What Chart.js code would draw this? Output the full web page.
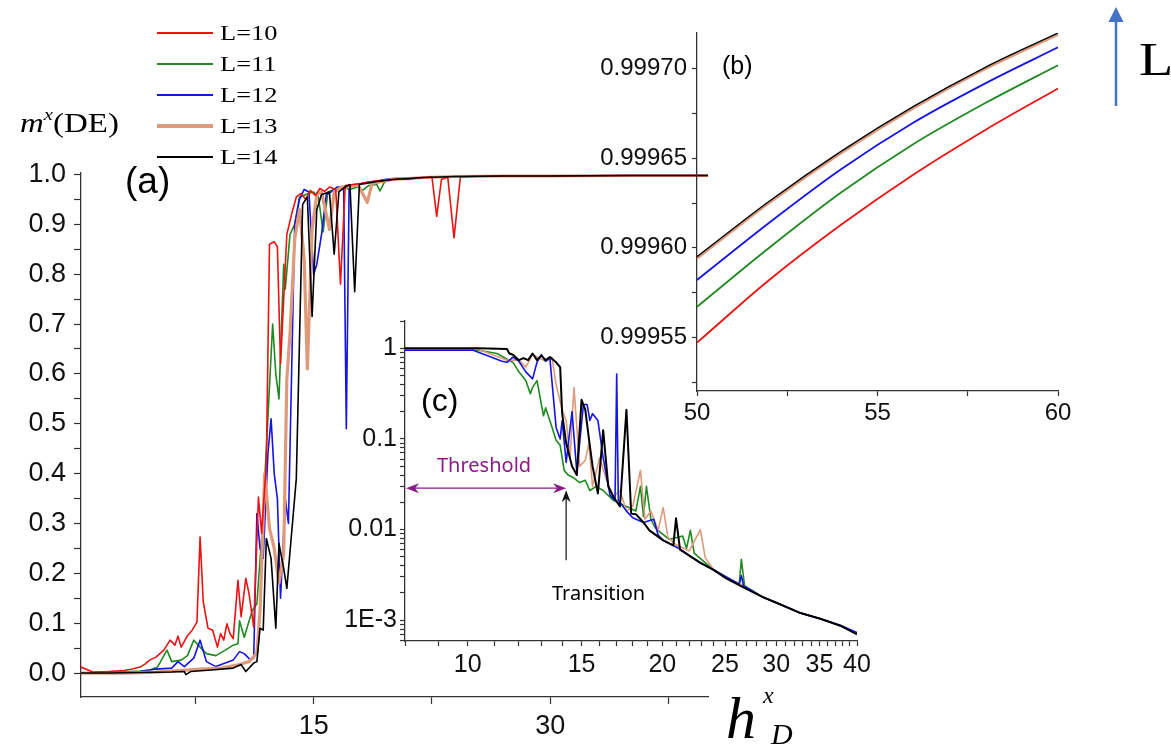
<!DOCTYPE html>
<html lang="en">
<head>
  <meta charset="UTF-8">
  <title>m^x(DE) against h^x_D</title>
  <script src="https://cdn.jsdelivr.net/npm/chart.js"></script>
  <style>
    body { margin: 0; background: #fff; }
    #fig { position: relative; width: 1171px; height: 749px; overflow: hidden; background: #fff; }
    #fig canvas { position: absolute; }
    .lbl { position: absolute; white-space: nowrap; line-height: 1; color: #000; transform-origin: left top; }
    .sans { font-family: 'Liberation Sans', Arial, sans-serif; }
    .serif { font-family: 'Liberation Serif', 'Times New Roman', serif; }
    .note { font-family: 'Noto Sans', 'Open Sans', sans-serif; }
    .wide { transform: scaleX(1.22); }
    .legend-row { position: absolute; left: 157px; height: 24px; display: flex; align-items: center; }
    .legend-row .sw { width: 56px; margin-right: 7px; }
    .legend-row span { font-family: 'Liberation Serif', serif; font-size: 22px; line-height: 1;
                       display: inline-block; transform: scaleX(1.2); transform-origin: left center; }
  </style>
</head>
<body>
<div id="fig">
  <canvas id="mainChart" width="1171" height="749" style="left:0;top:0"></canvas>
  <canvas id="insetB" width="500" height="430" style="left:580px;top:0"></canvas>
  <canvas id="insetC" width="560" height="390" style="left:330px;top:300px"></canvas>
  <div id="legend"></div>

  <div class="lbl serif wide" style="left:20px;top:110px;font-size:27px"><i>m</i><span style="position:relative;top:-12px;font-size:17px;font-style:italic">x</span>(DE)</div>
  <div class="lbl serif" style="left:726px;top:688px;font-size:60px;font-style:italic">h</div>
  <div class="lbl serif" style="left:763px;top:683px;font-size:24px;font-style:italic">x</div>
  <div class="lbl serif" style="left:771px;top:719px;font-size:30px;font-style:italic">D</div>

  <div class="lbl sans" style="left:125px;top:162px;font-size:37px">(a)</div>
  <div class="lbl sans" style="left:722px;top:53px;font-size:25px">(b)</div>
  <div class="lbl sans" style="left:421px;top:384px;font-size:32px">(c)</div>
  <div class="lbl note" style="left:437px;top:455px;font-size:20px;color:#8b1a8b">Threshold</div>
  <div class="lbl note" style="left:552px;top:583px;font-size:20px">Transition</div>

  <svg style="position:absolute;left:1100px;top:0" width="32" height="125">
    <line x1="16" y1="106" x2="16" y2="20" stroke="#4472c4" stroke-width="2.5"/>
    <polygon points="16,7 8.5,22 23.5,22" fill="#4472c4"/>
  </svg>
  <div class="lbl serif wide" style="left:1139px;top:37px;font-size:46px">L</div>
</div>

<script>
  // ---- series names / colours ----
  const seriesNames = ['L=10', 'L=11', 'L=12', 'L=13', 'L=14'];
  const seriesColors = ['#ee1111', '#1f8a1f', '#1414e6', '#de9a7a', '#000000'];

  // ---- panel (a): m^x(DE) vs h^x_D ----
  const hx10 = [0.25, 1, 2, 3, 3.5, 4, 4.3, 4.6, 5.0, 5.5, 5.9, 6.2, 6.4, 6.6, 7.0, 7.3, 7.6, 7.8, 8.0, 8.3, 8.6, 8.9, 9.1, 9.3, 9.5, 9.7, 9.9, 10.2, 10.4, 10.7, 10.9, 11.2, 11.5, 11.7, 12.0, 12.2, 12.5, 12.7, 12.9, 13.3, 13.6, 13.9, 14.2, 14.5, 14.8, 15.1, 15.4, 15.7, 16.0, 16.4, 16.7, 17.0, 17.5, 18.0, 18.5, 19.0, 19.5, 20.0, 20.5, 21.0, 21.5, 22.0, 22.5, 22.8, 23.1, 23.5, 23.9, 24.3, 25, 27, 30, 35, 40];
  const m10 = [0.012, 0.002, 0.003, 0.005, 0.008, 0.012, 0.018, 0.026, 0.032, 0.046, 0.066, 0.056, 0.074, 0.052, 0.075, 0.086, 0.102, 0.273, 0.143, 0.090, 0.086, 0.052, 0.079, 0.066, 0.099, 0.079, 0.069, 0.186, 0.113, 0.190, 0.160, 0.092, 0.353, 0.280, 0.420, 0.860, 0.865, 0.855, 0.620, 0.880, 0.920, 0.955, 0.962, 0.950, 0.968, 0.958, 0.972, 0.966, 0.975, 0.970, 0.780, 0.978, 0.980, 0.982, 0.985, 0.987, 0.988, 0.990, 0.991, 0.990, 0.993, 0.994, 0.995, 0.916, 0.990, 0.995, 0.873, 0.995, 0.996, 0.997, 0.997, 0.998, 0.998];

  const hx11 = [0.25, 2, 4, 4.6, 5.1, 5.7, 6.0, 6.6, 7.0, 7.4, 7.8, 8.2, 8.8, 9.4, 9.9, 10.2, 10.3, 10.6, 11.1, 11.4, 11.7, 12.0, 12.4, 12.6, 12.8, 13.1, 13.2, 13.5, 13.8, 14.1, 14.5, 15.0, 15.3, 15.6, 15.9, 16.3, 16.8, 17.3, 17.8, 18.1, 18.5, 19.0, 19.2, 19.5, 20.0, 21, 22, 24, 27, 30, 35, 40];
  const m11 = [0.000, 0.001, 0.004, 0.006, 0.012, 0.046, 0.023, 0.026, 0.035, 0.066, 0.052, 0.039, 0.035, 0.046, 0.056, 0.059, 0.105, 0.072, 0.125, 0.139, 0.270, 0.450, 0.700, 0.600, 0.550, 0.820, 0.770, 0.880, 0.900, 0.955, 0.960, 0.965, 0.955, 0.885, 0.965, 0.970, 0.975, 0.970, 0.975, 0.968, 0.978, 0.980, 0.967, 0.985, 0.990, 0.992, 0.994, 0.996, 0.997, 0.997, 0.998, 0.998];

  const hx12 = [0.25, 2, 4, 5.0, 6.0, 6.4, 6.8, 7.4, 7.8, 8.2, 8.8, 9.4, 9.9, 10.3, 10.6, 11.0, 11.2, 11.4, 11.6, 11.8, 12.1, 12.3, 12.5, 12.7, 12.9, 13.2, 13.4, 13.6, 13.8, 14.1, 14.4, 14.7, 15.0, 15.2, 15.5, 15.8, 16.1, 16.5, 16.9, 17.07, 17.25, 17.6, 18.0, 18.5, 19.0, 19.5, 20, 21, 22, 24, 27, 30, 35, 40];
  const m12 = [0.000, 0.001, 0.003, 0.008, 0.010, 0.023, 0.013, 0.030, 0.066, 0.023, 0.013, 0.020, 0.026, 0.043, 0.039, 0.026, 0.030, 0.320, 0.250, 0.230, 0.440, 0.510, 0.400, 0.350, 0.150, 0.350, 0.300, 0.600, 0.900, 0.950, 0.970, 0.965, 0.800, 0.820, 0.880, 0.960, 0.965, 0.975, 0.975, 0.490, 0.978, 0.980, 0.982, 0.985, 0.987, 0.990, 0.992, 0.993, 0.994, 0.996, 0.997, 0.997, 0.998, 0.998];

  const hx13 = [0.25, 3, 5, 6, 7.8, 9.1, 10.3, 10.9, 11.4, 11.6, 11.9, 12.2, 12.5, 12.8, 13.1, 13.3, 13.5, 13.8, 14.1, 14.4, 14.6, 14.9, 15.2, 15.5, 16.0, 16.3, 16.8, 17.3, 17.8, 18.4, 18.7, 19.2, 20, 21, 22, 24, 27, 30, 35, 40];
  const m13 = [0.000, 0.000, 0.002, 0.004, 0.008, 0.010, 0.017, 0.023, 0.040, 0.125, 0.400, 0.290, 0.250, 0.180, 0.240, 0.590, 0.680, 0.870, 0.930, 0.830, 0.610, 0.890, 0.960, 0.965, 0.890, 0.965, 0.975, 0.975, 0.980, 0.944, 0.982, 0.985, 0.990, 0.992, 0.994, 0.996, 0.997, 0.997, 0.998, 0.998];

  const hx14 = [0.25, 2, 4, 6, 6.8, 6.9, 7.2, 8.5, 9.9, 10.4, 10.7, 11.2, 11.4, 11.6, 11.8, 12.0, 12.3, 12.6, 12.8, 13.1, 13.3, 13.6, 13.9, 14.3, 14.6, 14.9, 15.2, 15.5, 16.0, 16.3, 16.6, 17.0, 17.3, 17.6, 17.9, 18.5, 19, 20, 21, 22, 24, 27, 30, 35, 40];
  const m14 = [0.000, 0.000, 0.001, 0.002, 0.003, -0.003, 0.003, 0.006, 0.010, 0.017, 0.003, 0.020, 0.023, 0.090, 0.086, 0.270, 0.230, 0.090, 0.260, 0.210, 0.170, 0.280, 0.390, 0.940, 0.955, 0.715, 0.930, 0.960, 0.965, 0.840, 0.965, 0.975, 0.980, 0.765, 0.980, 0.983, 0.986, 0.990, 0.992, 0.994, 0.996, 0.997, 0.997, 0.998, 0.998];

  const mainXTicks = [7.5, 15, 22.5, 30, 37.5];
  const mainXLabels = [15, 30];
  const mainYTicks = [0, 0.05, 0.1, 0.15, 0.2, 0.25, 0.3, 0.35, 0.4, 0.45, 0.5, 0.55, 0.6, 0.65, 0.7, 0.75, 0.8, 0.85, 0.9, 0.95, 1.0];

  // ---- panel (b): zoom 50..60 ----
  const hxB = [50, 52, 54, 56, 58, 60];
  const mB10 = [0.999547, 0.999582, 0.999613, 0.999641, 0.999666, 0.999689];
  const mB11 = [0.999567, 0.999600, 0.999631, 0.999658, 0.999681, 0.999702];
  const mB12 = [0.999582, 0.999614, 0.999644, 0.999670, 0.999692, 0.999712];
  const mB13 = [0.999594, 0.999625, 0.999653, 0.999678, 0.999700, 0.999719];
  const mB14 = [0.999595, 0.999626, 0.999654, 0.999679, 0.999701, 0.999720];
  const bXTicks = [50, 52.5, 55, 57.5, 60];
  const bXLabels = [50, 55, 60];
  const bYTicks = [0.999525, 0.99955, 0.999575, 0.9996, 0.999625, 0.99965, 0.999675, 0.9997];
  const bYLabels = [0.99955, 0.9996, 0.99965, 0.9997];

  // ---- panel (c): log-log ----
  const hxC11 = [8.0, 9.3, 10.4, 11.1, 11.75, 12.0, 12.3, 12.5, 12.6, 12.8, 13.1, 13.2, 13.5, 13.7, 13.9, 14.1, 14.3, 14.6, 14.9, 15.2, 15.45, 15.8, 16.2, 16.8, 17.6, 18.2, 18.5, 18.7, 18.9, 19.2, 19.5, 19.8, 20.5, 21.5, 21.8, 22.1, 22.4, 24.0, 25.1, 26.3, 26.5, 26.8, 28.6, 30.4, 32.7, 35.1, 37.7, 40];
  const dC11 = [0.96, 0.96, 0.95, 0.875, 0.70, 0.55, 0.44, 0.316, 0.37, 0.44, 0.18, 0.22, 0.135, 0.097, 0.085, 0.045, 0.040, 0.037, 0.033, 0.035, 0.027, 0.030, 0.027, 0.021, 0.018, 0.016, 0.030, 0.014, 0.030, 0.013, 0.0105, 0.0095, 0.0078, 0.0085, 0.0062, 0.0098, 0.0055, 0.0036, 0.0030, 0.0025, 0.0047, 0.0024, 0.0018, 0.0015, 0.0012, 0.00104, 0.00087, 0.00072];

  const hxC12 = [8.0, 10.2, 11.3, 11.5, 11.75, 12.0, 12.3, 12.6, 12.8, 13.0, 13.2, 13.4, 13.7, 13.9, 14.0, 14.2, 14.5, 14.75, 15.1, 15.3, 15.45, 15.6, 15.9, 16.2, 16.6, 16.9, 17.0, 17.1, 17.6, 18.0, 18.7, 19.4, 19.7, 20.06, 21.3, 22.9, 24.0, 25.1, 26.3, 26.5, 26.7, 28.6, 30.4, 32.7, 35.1, 37.7, 40];
  const dC12 = [0.95, 0.95, 0.72, 0.70, 0.80, 0.72, 0.55, 0.46, 0.70, 0.85, 0.72, 0.78, 0.134, 0.10, 0.16, 0.055, 0.20, 0.043, 0.24, 0.24, 0.16, 0.19, 0.16, 0.062, 0.024, 0.021, 0.52, 0.021, 0.016, 0.0135, 0.012, 0.013, 0.0087, 0.0076, 0.0061, 0.0043, 0.0036, 0.0030, 0.0025, 0.0031, 0.0024, 0.0018, 0.0015, 0.0012, 0.00104, 0.00088, 0.00073];

  const hxC13 = [8.0, 10.4, 11.5, 12.0, 12.3, 12.6, 12.9, 13.2, 13.5, 13.7, 14.0, 14.2, 14.4, 14.6, 14.9, 15.2, 15.4, 15.6, 16.0, 16.4, 16.8, 17.2, 17.6, 18.0, 18.5, 18.8, 19.2, 19.7, 20.06, 20.4, 21.0, 22.0, 22.9, 23.3, 24.0, 25.1, 26.7, 28.6, 30.4, 32.7, 35.1, 37.7, 40];
  const dC13 = [0.97, 0.97, 0.74, 0.74, 0.62, 0.85, 0.78, 0.72, 0.80, 0.40, 0.21, 0.16, 0.062, 0.37, 0.050, 0.058, 0.090, 0.030, 0.062, 0.035, 0.023, 0.027, 0.016, 0.018, 0.045, 0.013, 0.016, 0.0098, 0.0175, 0.0082, 0.0068, 0.0058, 0.0100, 0.0049, 0.0036, 0.0030, 0.0024, 0.0018, 0.0015, 0.0012, 0.00104, 0.00087, 0.00072];

  const hxC14 = [8.0, 10.4, 11.5, 11.6, 11.75, 12.0, 12.2, 12.4, 12.6, 12.8, 13.0, 13.2, 13.4, 13.7, 13.9, 14.0, 14.2, 14.5, 14.75, 15.0, 15.2, 15.4, 15.6, 15.9, 16.2, 16.5, 16.8, 17.2, 17.6, 17.9, 18.2, 18.7, 19.1, 20.06, 20.8, 21.0, 21.3, 22.9, 24.0, 25.1, 26.7, 28.6, 30.4, 32.7, 35.1, 37.7, 40];
  const dC14 = [1.00, 1.00, 0.98, 0.875, 0.85, 0.74, 0.78, 0.74, 0.875, 0.74, 0.83, 0.74, 0.80, 0.70, 0.62, 0.19, 0.09, 0.05, 0.04, 0.27, 0.21, 0.10, 0.05, 0.025, 0.125, 0.030, 0.023, 0.018, 0.21, 0.015, 0.0148, 0.012, 0.0098, 0.0076, 0.0067, 0.0133, 0.0060, 0.0043, 0.0036, 0.0029, 0.0023, 0.0018, 0.0015, 0.0012, 0.00104, 0.00087, 0.00070];

  const cXTicks = [8, 9, 10, 11, 12, 13, 14, 15, 16, 17, 18, 19, 20, 21, 22, 23, 24, 25, 26, 27, 28, 29, 30, 31, 32, 33, 34, 35, 36, 37, 38, 39, 40];
  const cXLabels = [10, 15, 20, 25, 30, 35, 40];
  const cYTicks = [0.0006, 0.0007, 0.0008, 0.0009, 0.001, 0.002, 0.003, 0.004, 0.005, 0.006, 0.007, 0.008, 0.009,
                   0.01, 0.02, 0.03, 0.04, 0.05, 0.06, 0.07, 0.08, 0.09, 0.1, 0.2, 0.3, 0.4, 0.5, 0.6, 0.7, 0.8, 0.9, 1, 2];
  const cYLabels = { 1: '1', 0.1: '0.1', 0.01: '0.01', 0.001: '1E-3' };

  // annotation positions in data units (panel c)
  const thresholdLevel = 0.0286;
  const thresholdFrom = 8;
  const thresholdTo = 14.2;
  const transitionLow = 0.0046;

  // ---- helpers ----
  const pts = (xs, ys) => xs.map((x, i) => ({ x: x, y: ys[i] }));
  const fixedTicks = values => scale => { scale.ticks = values.map(v => ({ value: v })); };

  function line(label, data, color, width) {
    return { label, data, borderColor: color, backgroundColor: color, borderWidth: width,
             pointRadius: 0, tension: 0, fill: false, borderJoinStyle: 'round' };
  }

  function axis(o) {
    return {
      type: o.type || 'linear', bounds: 'data', min: o.min, max: o.max,
      afterBuildTicks: fixedTicks(o.ticks),
      afterFit: o.fit,
      ticks: { autoSkip: false, maxRotation: 0, minRotation: 0, padding: o.pad, color: '#111',
               font: { family: "'Liberation Sans', Arial, sans-serif", size: o.size },
               callback: o.label },
      grid: { drawOnChartArea: false, tickLength: o.tick, tickColor: '#333', tickWidth: 1.2 },
      border: { color: '#333', width: 1.3 }
    };
  }

  const baseOptions = (padding, scales) => ({
    responsive: false, animation: false, events: [],
    layout: { padding },
    plugins: { legend: { display: false }, tooltip: { enabled: false } },
    scales
  });

  // ---- legend (html) ----
  const legend = document.getElementById('legend');
  seriesNames.forEach((name, i) => {
    const row = document.createElement('div');
    row.className = 'legend-row';
    row.style.top = (21 + i * 31) + 'px';
    const sw = document.createElement('div');
    sw.className = 'sw';
    sw.style.height = (i === 3 ? 4 : 2) + 'px';
    sw.style.background = seriesColors[i];
    const t = document.createElement('span');
    t.textContent = name;
    row.appendChild(sw); row.appendChild(t);
    legend.appendChild(row);
  });

  // ---- panel (a) ----
  new Chart(document.getElementById('mainChart'), {
    type: 'line',
    data: { datasets: [
      line(seriesNames[4], pts(hx14, m14), seriesColors[4], 1.6),
      line(seriesNames[0], pts(hx10, m10), seriesColors[0], 1.6),
      line(seriesNames[3], pts(hx13, m13), seriesColors[3], 3.2),
      line(seriesNames[2], pts(hx12, m12), seriesColors[2], 1.6),
      line(seriesNames[1], pts(hx11, m11), seriesColors[1], 1.6)
    ] },
    options: baseOptions({ left: 0, top: 173, right: 463, bottom: 7 }, {
      x: axis({ min: 0.25, max: 40, ticks: mainXTicks, size: 27, pad: 6, tick: 7,
                fit: s => { s.height = 45; },
                label: v => mainXLabels.includes(v) ? String(v) : '' }),
      y: axis({ min: -0.048, max: 1.003, ticks: mainYTicks, size: 27, pad: 8, tick: 7,
                fit: s => { s.width = 81; },
                label: v => (Math.round(v * 100) % 10 === 0) ? v.toFixed(1) : '' })
    })
  });

  // ---- panel (b) ----
  new Chart(document.getElementById('insetB'), {
    type: 'line',
    data: { datasets: [
      line(seriesNames[4], pts(hxB, mB14), seriesColors[4], 1.4),
      line(seriesNames[3], pts(hxB, mB13), seriesColors[3], 2.4),
      line(seriesNames[2], pts(hxB, mB12), seriesColors[2], 1.8),
      line(seriesNames[1], pts(hxB, mB11), seriesColors[1], 1.8),
      line(seriesNames[0], pts(hxB, mB10), seriesColors[0], 1.8)
    ].map(d => Object.assign(d, { cubicInterpolationMode: 'monotone' })) },
    options: baseOptions({ left: 0, top: 33, right: 22, bottom: 5 }, {
      x: axis({ min: 50, max: 60, ticks: bXTicks, size: 24, pad: 3, tick: 5,
                fit: s => { s.height = 34; },
                label: v => bXLabels.includes(v) ? String(v) : '' }),
      y: axis({ min: 0.99952, max: 0.99972, ticks: bYTicks, size: 24, pad: 5, tick: 5,
                fit: s => { s.width = 117; },
                label: v => bYLabels.includes(v) ? v.toFixed(5) : '' })
    })
  });

  // ---- panel (c) ----
  function arrowHead(ctx, x, y, ang, len, half) {
    ctx.save();
    ctx.translate(x, y);
    ctx.rotate(ang);
    ctx.beginPath();
    ctx.moveTo(0, 0);
    ctx.lineTo(-len, -half);
    ctx.lineTo(-len * 0.7, 0);
    ctx.lineTo(-len, half);
    ctx.closePath();
    ctx.fill();
    ctx.restore();
  }

  const cArrows = {
    id: 'cArrows',
    afterDatasetsDraw(chart) {
      const { ctx, scales } = chart;
      const yT = scales.y.getPixelForValue(thresholdLevel);
      const xa = scales.x.getPixelForValue(thresholdFrom) + 1;
      const xb = scales.x.getPixelForValue(thresholdTo);
      ctx.save();
      ctx.strokeStyle = ctx.fillStyle = '#8b1a8b';
      ctx.lineWidth = 1.2;
      ctx.beginPath(); ctx.moveTo(xa + 6, yT); ctx.lineTo(xb - 6, yT); ctx.stroke();
      arrowHead(ctx, xa, yT, Math.PI, 13, 5);
      arrowHead(ctx, xb, yT, 0, 13, 5);
      const yLow = scales.y.getPixelForValue(transitionLow);
      ctx.strokeStyle = ctx.fillStyle = '#111';
      ctx.beginPath(); ctx.moveTo(xb, yLow); ctx.lineTo(xb, yT + 6); ctx.stroke();
      arrowHead(ctx, xb, yT + 2, -Math.PI / 2, 12, 4.5);
      ctx.restore();
    }
  };

  new Chart(document.getElementById('insetC'), {
    type: 'line',
    data: { datasets: [
      line(seriesNames[4], pts(hxC14, dC14), seriesColors[4], 2),
      line(seriesNames[2], pts(hxC12, dC12), seriesColors[2], 1.6),
      line(seriesNames[3], pts(hxC13, dC13), seriesColors[3], 1.6),
      line(seriesNames[1], pts(hxC11, dC11), seriesColors[1], 1.6)
    ] },
    options: baseOptions({ left: 0, top: 21, right: 33, bottom: 9 }, {
      x: axis({ type: 'logarithmic', min: 8, max: 40, ticks: cXTicks, size: 25, pad: 4, tick: 5,
                fit: s => { s.height = 40; },
                label: v => cXLabels.includes(v) ? String(v) : '' }),
      y: axis({ type: 'logarithmic', min: 0.00059, max: 2, ticks: cYTicks, size: 25, pad: 3, tick: 5,
                fit: s => { s.width = 75; },
                label: v => cYLabels[v] || '' })
    }),
    plugins: [cArrows]
  });
</script>
</body>
</html>
